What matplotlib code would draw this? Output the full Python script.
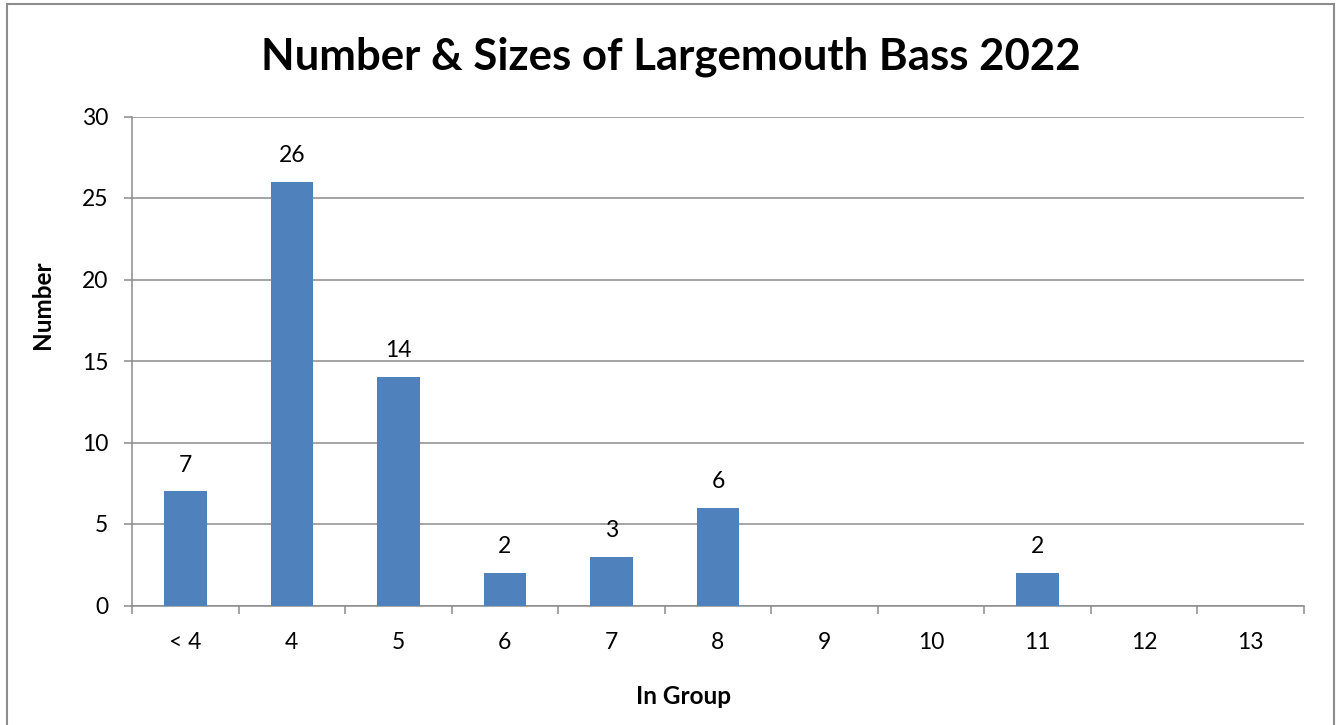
import matplotlib.pyplot as plt
from matplotlib.patches import Rectangle

categories = ["< 4", "4", "5", "6", "7", "8", "9", "10", "11", "12", "13"]
counts = [7, 26, 14, 2, 3, 6, 0, 0, 2, 0, 0]

plt.rcParams["font.family"] = ["Lato", "DejaVu Sans"]
grid_color = "#8c8c8c"
bar_color = "#4f81bd"

fig = plt.figure(figsize=(13.43, 7.25), dpi=100)
W, H = 1343, 725
ax = fig.add_axes([132 / W, 1 - 605.5 / H, (1304 - 132) / W, (605.5 - 116.5) / H])

x = list(range(len(categories)))
ax.bar(x, counts, width=0.4, color=bar_color, zorder=3)

# data labels, skip zero values
for xi, v in zip(x, counts):
    if v > 0:
        ax.annotate(str(v), (xi, v), xytext=(0, 19), textcoords="offset points",
                    ha="center", va="center", fontsize=16.5)

ax.set_xlim(-0.5, len(categories) - 0.5)
ax.set_ylim(0, 30)
ax.set_yticks(range(0, 31, 5))
ax.yaxis.grid(True, color=grid_color, linewidth=1.1, zorder=0)

ax.set_xticks(x)
ax.set_xticklabels(categories, fontsize=16.5)
ax.set_xticks([i - 0.5 for i in range(len(categories) + 1)], minor=True)
ax.tick_params(axis="x", which="major", length=0, pad=19)
ax.tick_params(axis="x", which="minor", length=6, width=1.1, color=grid_color)
ax.tick_params(axis="y", length=6, width=1.1, color=grid_color, labelsize=16.5, pad=11)

for side in ["top", "right"]:
    ax.spines[side].set_visible(False)
for side in ["left", "bottom"]:
    ax.spines[side].set_color(grid_color)
    ax.spines[side].set_linewidth(1.1)

fig.text(684 / W, 1 - 697 / H, "In Group", fontsize=17.5, fontweight="bold",
         ha="center", va="center")
fig.text(42 / W, 1 - 305 / H, "Number", fontsize=17.5, fontweight="bold",
         ha="center", va="center", rotation=90)

fig.suptitle("Number & Sizes of Largemouth Bass 2022", fontsize=31.5,
             fontweight="bold", x=671 / W, y=1 - 57 / H, va="center")

# chart border
fig.patches.append(Rectangle((7 / W, -0.01), (1334 - 7) / W, 1 - 4 / H + 0.01,
                             transform=fig.transFigure, fill=False,
                             edgecolor="#8c8c8c", linewidth=1.5))

plt.savefig("out.png", dpi=100)
plt.close()
